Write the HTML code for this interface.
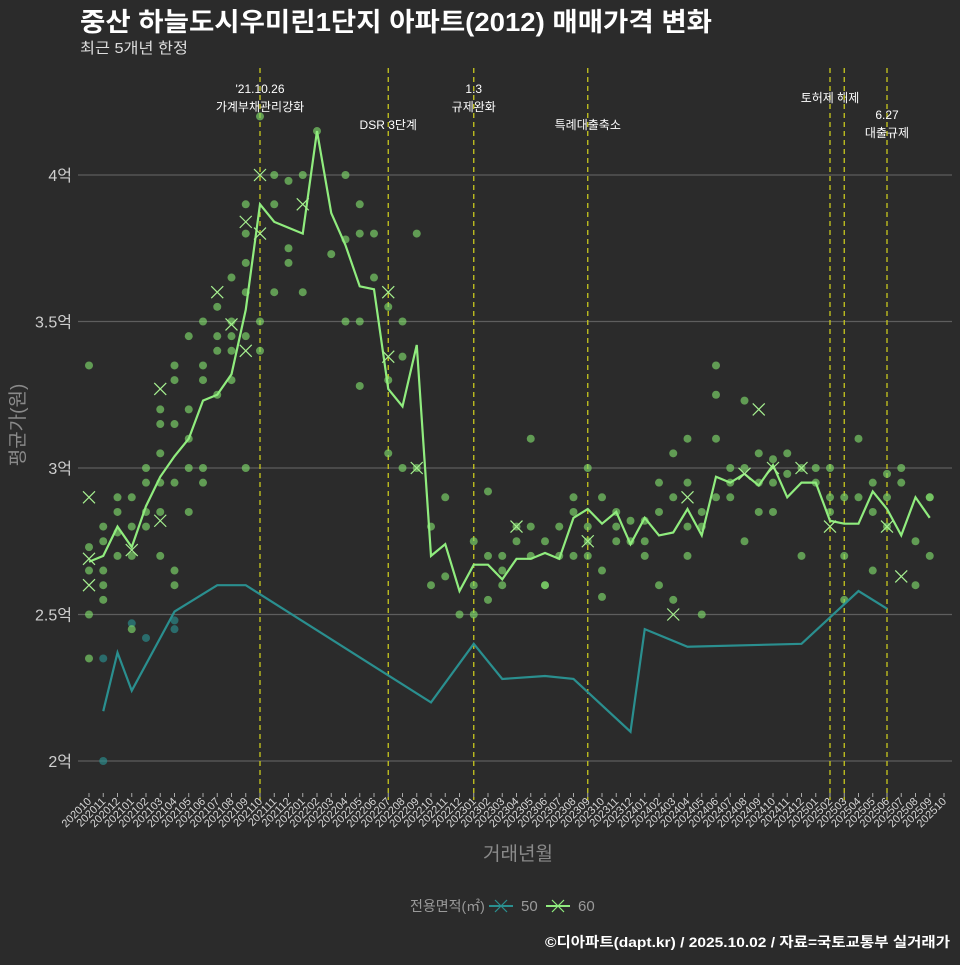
<!DOCTYPE html>
<html><head><meta charset="utf-8">
<style>
html,body{margin:0;padding:0;background:#2b2b2b;}
body{width:960px;height:960px;overflow:hidden;font-family:"Liberation Sans","Noto Sans CJK KR",sans-serif;}
svg text{font-family:"Liberation Sans","Noto Sans CJK KR",sans-serif;}
</style></head>
<body>
<svg id="chart" width="960" height="960" xmlns="http://www.w3.org/2000/svg">
<rect width="960" height="960" fill="#2b2b2b"/>
<text x="80" y="31" fill="#ffffff" font-size="26" font-weight="bold" textLength="632" lengthAdjust="spacingAndGlyphs">중산 하늘도시우미린1단지 아파트(2012) 매매가격 변화</text>
<text x="80" y="53" fill="#dddddd" font-size="15" textLength="108" lengthAdjust="spacingAndGlyphs">최근 5개년 한정</text>
<text transform="translate(24,425) rotate(-90)" text-anchor="middle" fill="#8a8a8a" font-size="19">평균가(원)</text>
<text x="518" y="860" text-anchor="middle" fill="#8a8a8a" font-size="19">거래년월</text>
<g>
<text x="410" y="911" fill="#9a9a9a" font-size="14">전용면적(㎡)</text>
<g>
<line x1="489" y1="906" x2="513" y2="906" stroke="#2a8f8f" stroke-width="2"/>
<line x1="495" y1="900" x2="507" y2="912" stroke="#2a8f8f" stroke-width="1.2"/>
<line x1="495" y1="912" x2="507" y2="900" stroke="#2a8f8f" stroke-width="1.2"/>
<text x="521" y="911" fill="#9a9a9a" font-size="15">50</text></g>
<g>
<line x1="546" y1="906" x2="570" y2="906" stroke="#90ec7e" stroke-width="2"/>
<line x1="552" y1="900" x2="564" y2="912" stroke="#90ec7e" stroke-width="1.2"/>
<line x1="552" y1="912" x2="564" y2="900" stroke="#90ec7e" stroke-width="1.2"/>
<text x="578" y="911" fill="#9a9a9a" font-size="15">60</text></g>
</g>
<text x="950" y="947" text-anchor="end" fill="#ffffff" font-size="14" font-weight="bold" textLength="405" lengthAdjust="spacingAndGlyphs">©디아파트(dapt.kr) / 2025.10.02 / 자료=국토교통부 실거래가</text>
<g id="plot"></g>
</svg>
<script>
const months = [];
for (let y = 2020, m = 10; !(y === 2025 && m === 11); ) { months.push(String(y) + String(m).padStart(2, '0')); m++; if (m > 12) { m = 1; y++; } }
const yTicks = [2, 2.5, 3, 3.5, 4];
const yTickLabels = ['2억', '2.5억', '3억', '3.5억', '4억'];
const s60Idx = [0,1,2,3,4,5,6,7,8,9,10,11,12,13,14,15,16,17,18,19,20,21,22,23,24,25,26,27,28,29,30,31,32,33,34,35,36,37,38,39,40,41,42,43,44,45,46,47,48,49,50,51,52,53,54,55,56,57,58,59];
const s60Val = [2.68,2.70,2.80,2.73,2.87,2.97,3.04,3.10,3.23,3.25,3.32,3.54,3.90,3.84,3.82,3.80,4.15,3.87,3.76,3.62,3.61,3.27,3.21,3.42,2.70,2.74,2.58,2.67,2.67,2.62,2.69,2.69,2.71,2.69,2.83,2.86,2.81,2.85,2.74,2.83,2.77,2.78,2.86,2.77,2.97,2.95,2.98,2.94,3.01,2.90,2.95,2.95,2.82,2.81,2.81,2.92,2.86,2.77,2.90,2.83];
const s50Idx = [1,2,3,6,9,11,24,27,29,32,34,38,39,42,50,54,56];
const s50Val = [2.17,2.37,2.24,2.51,2.60,2.60,2.20,2.40,2.28,2.29,2.28,2.10,2.45,2.39,2.40,2.58,2.52];
const dot60Idx = [0,0,0,0,0,1,1,1,1,1,2,2,2,2,3,3,3,3,4,4,4,4,5,5,5,5,5,5,6,6,6,6,6,6,7,7,7,7,7,8,8,8,8,8,9,9,9,9,10,10,10,10,10,11,11,11,11,11,11,12,12,12,13,13,13,14,14,14,15,15,16,17,18,18,18,19,19,19,19,20,20,21,21,21,22,22,22,23,23,24,24,25,25,26,27,27,27,28,28,28,29,29,29,30,30,31,31,31,32,32,32,33,33,34,34,34,35,35,35,35,36,36,36,37,37,37,38,38,39,39,39,40,40,40,41,41,41,42,42,42,42,43,43,43,44,44,44,44,45,45,45,46,46,46,47,47,47,48,48,48,49,49,50,50,51,51,52,52,52,53,53,53,54,54,55,55,55,56,56,56,57,57,58,58,59,59,59];
const dot60Val = [3.35,2.73,2.65,2.50,2.35,2.80,2.75,2.65,2.60,2.55,2.90,2.85,2.78,2.70,2.90,2.80,2.70,2.45,3.00,2.95,2.85,2.80,3.20,3.15,3.05,2.95,2.85,2.70,3.35,3.30,3.15,2.95,2.65,2.60,3.45,3.20,3.10,3.00,2.85,3.50,3.35,3.30,3.00,2.95,3.55,3.45,3.40,3.25,3.65,3.50,3.45,3.40,3.30,3.90,3.80,3.70,3.60,3.45,3.00,4.20,3.50,3.40,4.00,3.90,3.60,3.98,3.70,3.75,4.00,3.60,4.15,3.73,4.00,3.78,3.50,3.90,3.80,3.50,3.28,3.80,3.65,3.55,3.30,3.05,3.50,3.38,3.00,3.80,3.00,2.80,2.60,2.90,2.63,2.50,2.75,2.60,2.50,2.92,2.70,2.55,2.70,2.65,2.60,2.80,2.75,3.10,2.80,2.70,2.60,2.75,2.60,2.80,2.70,2.85,2.70,2.90,2.80,2.75,2.70,3.00,2.90,2.65,2.56,2.85,2.80,2.75,2.82,2.75,2.82,2.75,2.70,2.95,2.85,2.60,3.05,2.90,2.55,3.10,2.95,2.80,2.70,2.85,2.80,2.50,3.35,3.25,3.10,2.90,3.00,2.95,2.90,3.23,3.00,2.75,3.05,2.95,2.85,3.03,2.95,2.85,3.05,2.98,2.70,3.00,2.95,3.00,2.85,3.00,2.90,2.90,2.70,2.55,3.10,2.90,2.65,2.95,2.85,2.90,2.80,2.98,2.95,3.00,2.75,2.60,2.90,2.70,2.90,2.85,3.00,2.80,2.50];
const dot50Idx = [1,1,3,4,6,6];
const dot50Val = [2.35,2.00,2.47,2.42,2.48,2.45];
const x60Idx = [0,0,0,3,5,5,9,10,11,11,12,12,15,21,21,23,30,35,41,42,47,48,50,52,56,57,46];
const x60Val = [2.90,2.69,2.60,2.72,3.27,2.82,3.60,3.49,3.84,3.40,4.00,3.80,3.90,3.60,3.38,3.00,2.80,2.75,2.50,2.90,3.20,3.00,3.00,2.80,2.80,2.63,2.98];
const eventIdx = [12,21,27,35,52,53,56];
const eventLabels = [["'21.10.26","가계부채관리강화"],["DSR 3단계"],["1.3","규제완화"],["특례대출축소"],["토허제 해제"],[],["6.27","대출규제"]];
const eventLabelY = [[93,111],[129],[93,111],[129],[102],[],[119,137]];

const X0 = 89, XS = 14.25, Y2 = 761, YPER = 293;
const sx = i => X0 + i * XS;
const sy = v => Y2 - (v - 2) * YPER;
const NS = 'http://www.w3.org/2000/svg';
const plot = document.getElementById('plot');
function mk(tag, attrs, parent) { const e = document.createElementNS(NS, tag); for (const k in attrs) e.setAttribute(k, attrs[k]); (parent || plot).appendChild(e); return e; }

yTicks.forEach((v, i) => {
  const g = mk('line', {x1: 78, x2: 952, y1: sy(v), y2: sy(v), stroke: '#5e5e5e', 'stroke-width': 1.2});
  
  
  const t = mk('text', {x: 72, y: sy(v) + 6, 'text-anchor': 'end', fill: '#cfcfcf', 'font-size': 16});
  t.textContent = yTickLabels[i];
  
  
});
months.forEach((m, i) => {
  const tk = mk('line', {x1: sx(i), x2: sx(i), y1: 793, y2: 797, stroke: '#aaaaaa', 'stroke-width': 1});
  
  
  const t = mk('text', {transform: `translate(${sx(i) + 3},${802}) rotate(-45)`, 'text-anchor': 'end', fill: '#d8d8d8', 'font-size': 11});
  t.textContent = m;
  
  
});
eventIdx.forEach((ix, k) => {
  const l = mk('line', {x1: sx(ix), x2: sx(ix), y1: 68, y2: 800, stroke: '#c8c81e', 'stroke-width': 1.3, 'stroke-dasharray': '5,4'});
  
  
  eventLabels[k].forEach((s, j) => {
    const t = mk('text', {x: sx(ix), y: eventLabelY[k][j], 'text-anchor': 'middle', fill: '#ffffff', 'font-size': 12});
    t.textContent = s;
    
    
  });
});
dot50Idx.forEach((ix, k) => {
  const c = mk('circle', {cx: sx(ix), cy: sy(dot50Val[k]), r: 4, fill: '#2a8f8f', 'fill-opacity': 0.65});
  
  
});
dot60Idx.forEach((ix, k) => {
  const c = mk('circle', {cx: sx(ix), cy: sy(dot60Val[k]), r: 4, fill: '#7ed86a', 'fill-opacity': 0.65});
  
  
});
const p50 = mk('polyline', {points: s50Idx.map((ix, k) => sx(ix) + ',' + sy(s50Val[k])).join(' '), fill: 'none', stroke: '#2a8f8f', 'stroke-width': 2.2});


const p60 = mk('polyline', {points: s60Idx.map((ix, k) => sx(ix) + ',' + sy(s60Val[k])).join(' '), fill: 'none', stroke: '#90ec7e', 'stroke-width': 2.2});


x60Idx.forEach((ix, k) => {
  const cx = sx(ix), cy = sy(x60Val[k]);
  const g = mk('path', {d: `M${cx-6},${cy-6}L${cx+6},${cy+6}M${cx-6},${cy+6}L${cx+6},${cy-6}`, stroke: '#a6f090', 'stroke-width': 1.2, fill: 'none'});
  
  
});
</script>
</body></html>
